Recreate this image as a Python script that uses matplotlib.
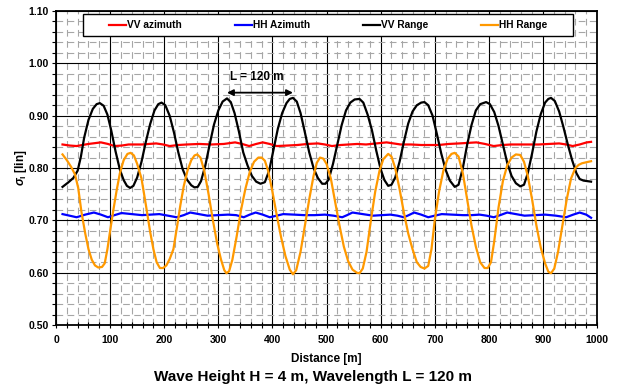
import numpy as np
import matplotlib
matplotlib.use("Agg")
import matplotlib.pyplot as plt
from matplotlib.ticker import MultipleLocator, FormatStrFormatter

plt.rcParams["font.family"] = ["Liberation Sans", "DejaVu Sans"]
plt.rcParams["font.weight"] = "bold"
plt.rcParams["mathtext.fontset"] = "custom"
plt.rcParams["mathtext.it"] = "Liberation Sans:italic:bold"
plt.rcParams["mathtext.rm"] = "Liberation Sans:bold"

# VV azimuth (red)
vv_az_x = [12, 25, 38, 60, 83, 96, 108, 122, 134, 159, 185, 198, 210, 226, 242, 265, 287,
           310, 331, 344, 357, 370, 382, 395, 408, 428, 446, 465, 484, 497, 510, 526, 541,
           557, 573, 592, 611, 624, 637, 656, 675, 691, 707, 726, 745, 761, 777, 793, 809,
           825, 841, 866, 892, 911, 930, 943, 955, 968, 981, 989]
vv_az_y = [0.845, 0.843, 0.842, 0.846, 0.849, 0.846, 0.842, 0.843, 0.845, 0.845, 0.847, 0.845,
           0.842, 0.844, 0.845, 0.846, 0.845, 0.846, 0.849, 0.846, 0.842, 0.846, 0.849, 0.846,
           0.842, 0.843, 0.844, 0.846, 0.847, 0.845, 0.842, 0.844, 0.845, 0.846, 0.845, 0.847,
           0.849, 0.847, 0.845, 0.845, 0.844, 0.844, 0.844, 0.846, 0.847, 0.848, 0.849, 0.846,
           0.842, 0.844, 0.845, 0.845, 0.845, 0.846, 0.847, 0.845, 0.842, 0.845, 0.849, 0.850]

# HH azimuth (blue)
hh_az_x = [12, 25, 38, 54, 70, 83, 96, 108, 121, 140, 159, 175, 191, 207, 223, 236, 248, 264,
           280, 299, 318, 333, 347, 358, 369, 382, 395, 408, 420, 440, 459, 478, 497, 513, 529,
           538, 548, 567, 586, 602, 618, 631, 643, 652, 662, 675, 688, 700, 713, 732, 752, 768,
           783, 796, 809, 821, 834, 850, 866, 885, 904, 924, 943, 956, 968, 980, 989]
hh_az_y = [0.712, 0.709, 0.706, 0.711, 0.715, 0.711, 0.706, 0.710, 0.714, 0.712, 0.710, 0.711,
           0.712, 0.709, 0.706, 0.710, 0.715, 0.712, 0.709, 0.710, 0.711, 0.710, 0.706, 0.711,
           0.715, 0.711, 0.706, 0.709, 0.712, 0.711, 0.710, 0.710, 0.711, 0.709, 0.706, 0.710,
           0.715, 0.712, 0.709, 0.710, 0.711, 0.709, 0.706, 0.710, 0.715, 0.711, 0.706, 0.709,
           0.712, 0.711, 0.710, 0.710, 0.711, 0.709, 0.706, 0.710, 0.715, 0.712, 0.709, 0.710,
           0.711, 0.709, 0.706, 0.711, 0.715, 0.711, 0.705]

# VV Range (black)
vv_rg_x = [12, 22, 32, 40, 46, 52, 60, 68, 75, 81, 88, 95, 102, 110, 118, 125, 131, 137, 143,
           150, 158, 166, 174, 182, 189, 195, 202, 210, 218, 226, 234, 242, 250, 256, 262, 268,
           276, 284, 292, 300, 308, 316, 323, 330, 338, 346, 354, 362, 370, 378, 386, 394, 402,
           410, 418, 426, 432, 438, 445, 452, 460, 468, 476, 484, 492, 498, 504, 512, 520, 528,
           536, 544, 552, 561, 568, 576, 584, 592, 600, 607, 614, 620, 627, 635, 643, 651, 659,
           667, 675, 681, 688, 696, 704, 712, 720, 728, 737, 744, 752, 760, 768, 776, 784, 795,
           802, 810, 818, 826, 834, 842, 850, 858, 865, 872, 880, 888, 896, 904, 910, 915, 922,
           930, 938, 946, 954, 962, 968, 975, 982, 989]
vv_rg_y = [0.764, 0.772, 0.781, 0.795, 0.822, 0.858, 0.892, 0.913, 0.922, 0.924, 0.919, 0.902,
           0.872, 0.832, 0.797, 0.777, 0.766, 0.762, 0.766, 0.782, 0.812, 0.850, 0.884, 0.910,
           0.922, 0.925, 0.920, 0.900, 0.868, 0.830, 0.798, 0.778, 0.767, 0.763, 0.764, 0.775,
           0.805, 0.845, 0.883, 0.910, 0.927, 0.933, 0.926, 0.905, 0.870, 0.830, 0.805, 0.785,
           0.774, 0.770, 0.773, 0.795, 0.835, 0.875, 0.905, 0.924, 0.932, 0.934, 0.927, 0.905,
           0.868, 0.830, 0.800, 0.781, 0.770, 0.770, 0.778, 0.808, 0.845, 0.882, 0.910, 0.925,
           0.931, 0.932, 0.925, 0.902, 0.872, 0.833, 0.798, 0.777, 0.766, 0.768, 0.782, 0.812,
           0.850, 0.885, 0.908, 0.920, 0.925, 0.926, 0.920, 0.900, 0.865, 0.828, 0.797, 0.776,
           0.764, 0.768, 0.800, 0.845, 0.882, 0.910, 0.922, 0.926, 0.922, 0.907, 0.880, 0.845,
           0.810, 0.785, 0.771, 0.765, 0.768, 0.790, 0.828, 0.870, 0.903, 0.925, 0.932, 0.934,
           0.928, 0.908, 0.878, 0.845, 0.815, 0.790, 0.779, 0.776, 0.775, 0.774]

# HH Range (orange)
hh_rg_x = [12, 20, 28, 35, 41, 47, 54, 60, 66, 72, 78, 85, 90, 95, 100, 106, 112, 118, 125,
           132, 138, 144, 150, 158, 166, 174, 180, 186, 192, 198, 204, 210, 217, 224, 230, 236,
           243, 250, 256, 261, 267, 274, 282, 290, 298, 305, 311, 315, 320, 326, 334, 342, 350,
           358, 366, 374, 380, 386, 392, 400, 408, 416, 424, 432, 438, 444, 452, 460, 468, 476,
           482, 488, 494, 500, 508, 516, 524, 532, 540, 548, 556, 561, 567, 574, 582, 590, 598,
           605, 614, 620, 627, 635, 643, 651, 659, 667, 674, 681, 688, 694, 700, 708, 716, 724,
           731, 737, 744, 752, 760, 768, 776, 784, 792, 798, 804, 810, 818, 826, 834, 842, 850,
           858, 865, 872, 880, 888, 896, 904, 910, 915, 921, 928, 936, 944, 952, 960, 966, 972,
           980, 989]
hh_rg_y = [0.826, 0.815, 0.802, 0.788, 0.762, 0.716, 0.675, 0.645, 0.625, 0.614, 0.610, 0.611,
           0.618, 0.645, 0.680, 0.720, 0.757, 0.790, 0.815, 0.827, 0.829, 0.824, 0.808, 0.780,
           0.730, 0.678, 0.645, 0.620, 0.609, 0.609, 0.614, 0.626, 0.645, 0.690, 0.730, 0.765,
           0.795, 0.815, 0.824, 0.826, 0.820, 0.795, 0.750, 0.700, 0.655, 0.625, 0.605, 0.599,
           0.603, 0.625, 0.670, 0.720, 0.760, 0.792, 0.812, 0.820, 0.820, 0.814, 0.795, 0.755,
           0.710, 0.668, 0.632, 0.606, 0.597, 0.605, 0.640, 0.690, 0.740, 0.785, 0.810, 0.820,
           0.818, 0.808, 0.780, 0.735, 0.690, 0.650, 0.622, 0.606, 0.600, 0.599, 0.608, 0.640,
           0.700, 0.755, 0.795, 0.817, 0.827, 0.822, 0.800, 0.760, 0.715, 0.675, 0.645, 0.620,
           0.611, 0.608, 0.613, 0.645, 0.700, 0.755, 0.795, 0.818, 0.827, 0.829, 0.822, 0.790,
           0.740, 0.690, 0.650, 0.620, 0.609, 0.609, 0.620, 0.660, 0.725, 0.775, 0.805, 0.820,
           0.826, 0.825, 0.812, 0.785, 0.740, 0.690, 0.648, 0.618, 0.602, 0.599, 0.608, 0.640,
           0.690, 0.740, 0.780, 0.800, 0.806, 0.809, 0.811, 0.813]

labels = ["VV azimuth", "HH Azimuth", "VV Range", "HH Range"]
colors = ["#ff0000", "#0000ff", "#000000", "#ff9900"]
wavelength = 120

fig = plt.figure(figsize=(6.26, 3.87), dpi=100)
ax = fig.add_axes([0.0895, 0.160, 0.8642, 0.8116])

series = [(vv_az_x, vv_az_y), (hh_az_x, hh_az_y), (vv_rg_x, vv_rg_y), (hh_rg_x, hh_rg_y)]
for (xs, ys), lab, c in zip(series, labels, colors):
    ax.plot(xs, ys, color=c, lw=1.6, label=lab, zorder=3)

ax.set_xlim(0, 1000)
ax.set_ylim(0.5, 1.1)
ax.xaxis.set_major_locator(MultipleLocator(100))
ax.xaxis.set_minor_locator(MultipleLocator(20))
ax.yaxis.set_major_locator(MultipleLocator(0.1))
ax.yaxis.set_minor_locator(MultipleLocator(0.02))
ax.yaxis.set_major_formatter(FormatStrFormatter("%.2f"))

ax.grid(which="minor", color="#a6a6a6", lw=0.8, linestyle=(0, (6, 4)), zorder=0)
ax.grid(which="major", color="black", lw=0.8, linestyle="-", zorder=1)
ax.set_axisbelow(True)

ax.tick_params(axis="x", which="both", direction="inout", length=4, width=0.8,
               labelsize=7.5, pad=5)
ax.tick_params(axis="y", which="both", direction="out", length=3, width=0.8,
               labelsize=7.5, pad=2)
for s in ax.spines.values():
    s.set_linewidth(1.3)

ax.set_xlabel("Distance [m]", fontsize=8.5, fontweight="bold", labelpad=6)
ax.set_ylabel(r"$\sigma_\mathrm{l}$ [lin]", fontsize=8.5, fontweight="bold", labelpad=0)

# legend box
leg = ax.legend(loc="center", bbox_to_anchor=(0.503, 0.955), ncol=4, frameon=False,
                fontsize=7.3, handlelength=1.67, handletextpad=0.1, columnspacing=5.2)
box = plt.Rectangle((0.05, 0.921), 0.9057, 0.069, transform=ax.transAxes,
                    facecolor="white", edgecolor="black", lw=1.0, zorder=4)
ax.add_patch(box)
leg.set_zorder(5)

# wavelength arrow between two VV Range peaks
vx = np.array(vv_rg_x)
vy = np.array(vv_rg_y)
sel = (vx > 300) & (vx < 340)
x1 = vx[sel][np.argmax(vy[sel])]
x2 = x1 + wavelength + 2
ay = 0.944
ax.annotate("", xy=(x2, ay), xytext=(x1, ay),
            arrowprops=dict(arrowstyle="<|-|>", color="black", lw=1.3, mutation_scale=9,
                            shrinkA=0, shrinkB=0), zorder=6)
ax.text((x1 + x2) / 2 - 5, 0.974, f"L = {wavelength} m", ha="center", va="center",
        fontsize=8.5, fontweight="bold", zorder=6)

fig.text(0.5, 0.026, "Wave Height H = 4 m, Wavelength L = 120 m", ha="center",
         va="center", fontsize=11, fontweight="bold")

fig.savefig("out.png", dpi=100)
